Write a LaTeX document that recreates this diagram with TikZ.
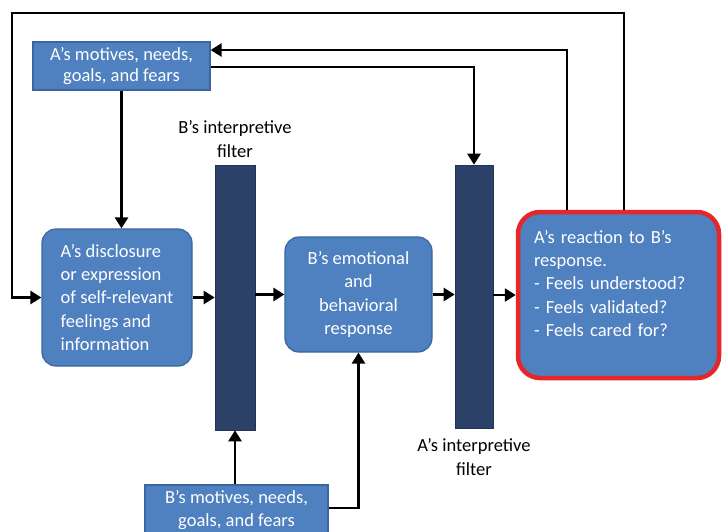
\documentclass[tikz,border=0pt]{standalone}
\usepackage{fontspec}
\setmainfont{Carlito}
\usetikzlibrary{arrows.meta,calc}
\definecolor{boxblue}{HTML}{4F80BF}
\definecolor{boxedge}{HTML}{3A659E}
\definecolor{barblue}{HTML}{2B4168}
\definecolor{rededge}{HTML}{E5262B}
\begin{document}
\begin{tikzpicture}[x=1pt,y=1pt,
  every node/.style={font=\fontsize{18.5}{23.2}\selectfont},
  bluebox/.style={draw=boxedge,line width=1.2pt,fill=boxblue,text=white,inner sep=0pt,align=center},
  roundbox/.style={bluebox,rounded corners=14pt},
  filterbar/.style={fill=barblue,draw=barblue!80!black,line width=0.6pt,minimum width=40pt,inner sep=0pt},
  arr/.style={line width=2.6pt,-{Triangle[length=11pt,width=13pt]}}]
\useasboundingbox (0,0) rectangle (724,-531);
\fill[white] (0,0) rectangle (724,-531);
% boxes
\node[bluebox,minimum width=177pt,minimum height=48pt] (amot) at (121.5,-66) {\raisebox{-2pt}{\shortstack{A's motives, needs,\\[3pt]goals, and fears}}};
\node[roundbox,minimum width=150pt,minimum height=137pt,align=left] (disc) at (117,-297.5) {A's disclosure\\or expression\\of self-relevant\\feelings and\\information};
\node[filterbar,minimum height=265pt] (bfilt) at (235,-297.5) {};
\node[roundbox,minimum width=147pt,minimum height=115pt] (bemo) at (358.5,-294.5) {B's emotional\\and\\behavioral\\response};
\node[filterbar,minimum height=263pt,minimum width=38pt] (afilt) at (474,-296.5) {};
\node[bluebox,rounded corners=22pt,draw=rededge,line width=4.5pt,minimum width=201pt,minimum height=166pt,text width=169pt,align=left] (react) at (618.5,-295) {A's reaction to B's\\response.\\- Feels understood?\\- Feels validated?\\- Feels cared for?\\\mbox{}};
\node[bluebox,minimum width=183pt,minimum height=50pt] (bmot) at (236.5,-510) {B's motives, needs,\\goals, and fears};
% labels
\node[align=center] (blab) at (235,-139) {B's interpretive\\filter};
\node[align=center] (alab) at (474,-457) {A's interpretive\\filter};
% outer loop
\coordinate (tl) at (12,-13);
\draw[arr] ([xshift=5.5pt]react.north) |- (tl) |- (disc.west);
% second loop
\draw[arr] ([xshift=-51.5pt]react.north) |- ([yshift=16pt]amot.east);
\draw[arr] ([yshift=-1pt]amot.east) -| (afilt.north);
\draw[arr] (amot.south) -- (amot.south |- disc.north);
% main chain
\draw[arr] (disc.east) -- (disc.east -| bfilt.west);
\draw[arr] (bfilt.east |- bemo.west) -- (bemo.west);
\draw[arr] (bemo.east) -- (bemo.east -| afilt.west);
\draw[arr] (afilt.east |- react.west) -- (react.west);
% B's motives
\draw[arr] (bmot.north -| bfilt.south) -- (bfilt.south);
\draw[arr] ([yshift=2pt]bmot.east) -| (bemo.south);
\end{tikzpicture}
\end{document}
